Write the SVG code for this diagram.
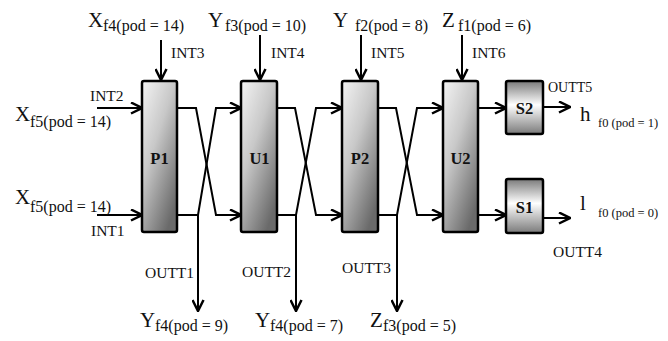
<svg xmlns="http://www.w3.org/2000/svg" width="668" height="341" viewBox="0 0 668 341">
<style>
text{font-family:"Liberation Serif","Times New Roman",serif;fill:#111}
.big{font-size:21px}
.sub{font-size:16px}
.sub2{font-size:12.5px}
.lbl{font-size:15.5px}
.blk{font-size:16.5px;font-weight:bold;text-anchor:middle}
.ln{fill:none;stroke:#000;stroke-width:2}
.ar{fill:none;stroke:#000;stroke-width:2;marker-end:url(#arr)}
.box{fill:url(#gP);stroke:#000;stroke-width:2.5}
.sbox{fill:url(#gS);stroke:#000;stroke-width:2.5}
</style>
<defs>
<marker id="arr" viewBox="0 0 13 13" refX="12" refY="6.5" markerWidth="13" markerHeight="13" markerUnits="userSpaceOnUse" orient="auto">
<path d="M1,1 L12,6.5 L1,12" fill="none" stroke="#000" stroke-width="2.5"/>
</marker>
<linearGradient id="gP" x1="0" y1="0" x2="0.7" y2="1">
<stop offset="0" stop-color="#f4f4f4"/>
<stop offset="0.45" stop-color="#c8c8c8"/>
<stop offset="1" stop-color="#6a6a6a"/>
</linearGradient>
<linearGradient id="gS" x1="0" y1="0" x2="0" y2="1">
<stop offset="0" stop-color="#7a7a7a"/>
<stop offset="0.45" stop-color="#ffffff"/>
<stop offset="1" stop-color="#7a7a7a"/>
</linearGradient>
</defs>

<g id="connectors">
<path class="ar" d="M97,108 H142"/>
<path class="ar" d="M97,215 H142"/>
<path class="ar" d="M161,40 V80"/>
<path class="ar" d="M260,35 V80"/>
<path class="ar" d="M361,35 V80"/>
<path class="ar" d="M462,35 V80"/>
<path class="ar" d="M177,108 H196 L216,215 H241"/>
<path class="ar" d="M177,215 H198 L216,108 H241"/>
<path class="ar" d="M198,215 V311"/>
<path class="ar" d="M277,108 H295 L316,215 H342"/>
<path class="ar" d="M277,215 H296 L316,108 H342"/>
<path class="ar" d="M296,215 V311"/>
<path class="ar" d="M378,108 H396 L417,215 H443"/>
<path class="ar" d="M378,215 H397 L417,108 H443"/>
<path class="ar" d="M397,215 V311"/>
<path class="ar" d="M478,108 H506"/>
<path class="ar" d="M478,215 H506"/>
<path class="ar" d="M543,107 H570"/>
<path class="ar" d="M543,218 H570"/>
</g>

<g id="P1"><rect class="box" x="142" y="81" width="35" height="151" rx="2"/><text class="blk" x="159.5" y="164">P1</text></g>
<g id="U1"><rect class="box" x="241" y="81" width="36" height="151" rx="2"/><text class="blk" x="259.5" y="164">U1</text></g>
<g id="P2"><rect class="box" x="342" y="81" width="36" height="151" rx="2"/><text class="blk" x="360" y="164">P2</text></g>
<g id="U2"><rect class="box" x="443" y="81" width="35" height="151" rx="2"/><text class="blk" x="460.5" y="164">U2</text></g>
<g id="S2"><rect class="sbox" x="506" y="81" width="37" height="53" rx="2"/><text class="blk" x="524.5" y="114">S2</text></g>
<g id="S1"><rect class="sbox" x="506" y="179" width="37" height="54" rx="2"/><text class="blk" x="524.5" y="213">S1</text></g>

<g id="labels">
<text class="big" x="88" y="27">X</text><text class="sub" x="103" y="31">f4(pod = 14)</text>
<text class="big" x="208" y="27">Y</text><text class="sub" x="225" y="31">f3(pod = 10)</text>
<text class="big" x="333" y="27">Y</text><text class="sub" x="355" y="31">f2(pod = 8)</text>
<text class="big" x="442" y="27">Z</text><text class="sub" x="458" y="31">f1(pod = 6)</text>
<text class="lbl" x="171" y="58">INT3</text>
<text class="lbl" x="271" y="58">INT4</text>
<text class="lbl" x="371" y="58">INT5</text>
<text class="lbl" x="472" y="58">INT6</text>
<text class="lbl" x="90" y="101">INT2</text>
<text class="big" x="15" y="121">X</text><text class="sub" x="30" y="127">f5(pod = 14)</text>
<text class="big" x="15" y="204">X</text><text class="sub" x="30" y="212">f5(pod = 14)</text>
<text class="lbl" x="91" y="236">INT1</text>
<text class="lbl" x="145" y="278">OUTT1</text>
<text class="lbl" x="242" y="277">OUTT2</text>
<text class="lbl" x="342" y="273">OUTT3</text>
<text class="big" x="140" y="327">Y</text><text class="sub" x="155" y="331">f4(pod = 9)</text>
<text class="big" x="255" y="327">Y</text><text class="sub" x="270" y="331">f4(pod = 7)</text>
<text class="big" x="370" y="327">Z</text><text class="sub" x="383" y="331">f3(pod = 5)</text>
<text x="548" y="92" style="font-size:14px">OUTT5</text>
<text class="big" x="580" y="121">h</text><text class="sub2" x="598" y="127">f0 (pod = 1)</text>
<text class="big" x="580" y="210">l</text><text class="sub2" x="598" y="217">f0 (pod = 0)</text>
<text class="lbl" x="553" y="257">OUTT4</text>
</g>
</svg>
